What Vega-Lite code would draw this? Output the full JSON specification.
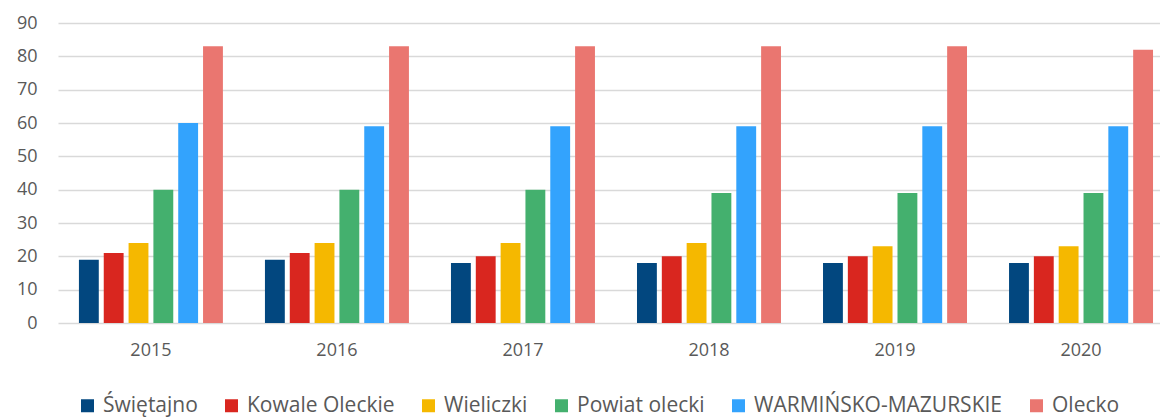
{
  "$schema": "https://vega.github.io/schema/vega-lite/v6.json",
  "autosize": {"type": "none"},
  "width": 1102,
  "height": 300,
  "padding": {"left": 58, "top": 23, "right": 0, "bottom": 94},
  "config": {
    "view": {"stroke": null},
    "font": "Open Sans"
  },
  "data": {
    "values": [
      {"rok": "2015", "seria": "Świętajno", "v": 19},
      {"rok": "2015", "seria": "Kowale Oleckie", "v": 21},
      {"rok": "2015", "seria": "Wieliczki", "v": 24},
      {"rok": "2015", "seria": "Powiat olecki", "v": 40},
      {"rok": "2015", "seria": "WARMIŃSKO-MAZURSKIE", "v": 60},
      {"rok": "2015", "seria": "Olecko", "v": 83},
      {"rok": "2016", "seria": "Świętajno", "v": 19},
      {"rok": "2016", "seria": "Kowale Oleckie", "v": 21},
      {"rok": "2016", "seria": "Wieliczki", "v": 24},
      {"rok": "2016", "seria": "Powiat olecki", "v": 40},
      {"rok": "2016", "seria": "WARMIŃSKO-MAZURSKIE", "v": 59},
      {"rok": "2016", "seria": "Olecko", "v": 83},
      {"rok": "2017", "seria": "Świętajno", "v": 18},
      {"rok": "2017", "seria": "Kowale Oleckie", "v": 20},
      {"rok": "2017", "seria": "Wieliczki", "v": 24},
      {"rok": "2017", "seria": "Powiat olecki", "v": 40},
      {"rok": "2017", "seria": "WARMIŃSKO-MAZURSKIE", "v": 59},
      {"rok": "2017", "seria": "Olecko", "v": 83},
      {"rok": "2018", "seria": "Świętajno", "v": 18},
      {"rok": "2018", "seria": "Kowale Oleckie", "v": 20},
      {"rok": "2018", "seria": "Wieliczki", "v": 24},
      {"rok": "2018", "seria": "Powiat olecki", "v": 39},
      {"rok": "2018", "seria": "WARMIŃSKO-MAZURSKIE", "v": 59},
      {"rok": "2018", "seria": "Olecko", "v": 83},
      {"rok": "2019", "seria": "Świętajno", "v": 18},
      {"rok": "2019", "seria": "Kowale Oleckie", "v": 20},
      {"rok": "2019", "seria": "Wieliczki", "v": 23},
      {"rok": "2019", "seria": "Powiat olecki", "v": 39},
      {"rok": "2019", "seria": "WARMIŃSKO-MAZURSKIE", "v": 59},
      {"rok": "2019", "seria": "Olecko", "v": 83},
      {"rok": "2020", "seria": "Świętajno", "v": 18},
      {"rok": "2020", "seria": "Kowale Oleckie", "v": 20},
      {"rok": "2020", "seria": "Wieliczki", "v": 23},
      {"rok": "2020", "seria": "Powiat olecki", "v": 39},
      {"rok": "2020", "seria": "WARMIŃSKO-MAZURSKIE", "v": 59},
      {"rok": "2020", "seria": "Olecko", "v": 82}
    ]
  },
  "mark": {"type": "bar"},
  "encoding": {
    "x": {
      "field": "rok", "type": "nominal",
      "scale": {"paddingInner": 0.226, "paddingOuter": 0.075, "align": 0.75},
      "axis": {
        "title": null, "labelAngle": 0, "labelFontSize": 18, "labelColor": "#595959",
        "domain": false, "ticks": false, "labelPadding": 18, "grid": false
      }
    },
    "xOffset": {
      "field": "seria", "type": "nominal",
      "sort": ["Świętajno", "Kowale Oleckie", "Wieliczki", "Powiat olecki", "WARMIŃSKO-MAZURSKIE", "Olecko"],
      "scale": {"paddingInner": 0.2, "paddingOuter": 0}
    },
    "y": {
      "field": "v", "type": "quantitative",
      "scale": {"domain": [0, 90]},
      "axis": {
        "title": null, "values": [0, 10, 20, 30, 40, 50, 60, 70, 80, 90],
        "labelFontSize": 18, "labelColor": "#595959", "domain": false, "ticks": false,
        "labelPadding": 21, "gridColor": "#d9d9d9", "gridWidth": 1.5
      }
    },
    "color": {
      "field": "seria", "type": "nominal",
      "scale": {
        "domain": ["Świętajno", "Kowale Oleckie", "Wieliczki", "Powiat olecki", "WARMIŃSKO-MAZURSKIE", "Olecko"],
        "range": ["#02477f", "#d9261f", "#f5b800", "#44b06e", "#33a3fd", "#ea7670"]
      },
      "legend": {
        "title": null, "orient": "none", "direction": "horizontal",
        "legendX": 19, "legendY": 372, "padding": 0,
        "symbolType": "square", "symbolSize": 169, "symbolStrokeWidth": 0,
        "labelFontSize": 21, "labelColor": "#595959", "labelOffset": 5, "labelLimit": 0,
        "columnPadding": 23
      }
    }
  }
}
